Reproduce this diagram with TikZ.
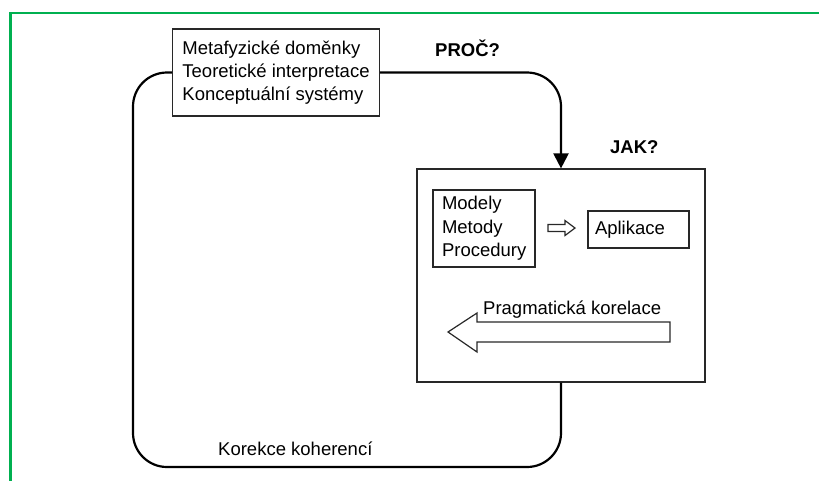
\documentclass[tikz,border=0pt]{standalone}
\usepackage{fontspec}
\setmainfont{Liberation Sans}
\usetikzlibrary{arrows.meta}

\definecolor{framegreen}{RGB}{0,176,80}
\definecolor{boxline}{RGB}{40,40,40}

\tikzset{
  txt/.style={font=\fontsize{18.5}{23.3}\selectfont},
  panel/.style={draw=boxline, line width=1.2pt, inner xsep=0pt, inner ysep=0pt},
  framed/.style={panel, txt, align=left, inner xsep=#1},
  flow/.style={line width=2.2pt, rounded corners=34pt},
  blockarrow/.style={draw=boxline, line width=1.2pt, fill=white, line join=miter},
  frame/.style={draw=framegreen, line width=2.6pt}
}

\begin{document}
\begin{tikzpicture}[x=1pt, y=-1pt]
  \useasboundingbox (0,0) rectangle (819,480);

  % outer frame (top and left edges)
  \draw[frame] (10.3,481) -- (10.3,13) -- (820,13);

  % theory box
  \node[framed=10pt, minimum width=206pt, minimum height=87pt]
    (meta) at (276,72.5)
    {Metafyzické doměnky\\Teoretické interpretace\\Konceptuální systémy};

  % practice box
  \node[panel, minimum width=288pt, minimum height=213pt] (jak) at (561,275.5) {};

  % inner boxes
  \node[framed=9pt, minimum width=102pt, minimum height=77pt, text width=84pt]
    (models) at (484,228.5) {Modely\\Metody\\Procedury};
  \node[framed=7pt, minimum width=101pt, minimum height=37pt, text width=87pt]
    (apl) at (638.5,229.5) {Aplikace};

  % question labels
  \node[txt, font=\fontsize{18.5}{23.3}\selectfont\bfseries, anchor=base west, inner sep=0pt]
    (proc) at (435,56) {PROČ?};
  \node[txt, font=\fontsize{18.5}{23.3}\selectfont\bfseries, anchor=base west, inner sep=0pt]
    (jakq) at (610,153) {JAK?};

  % small block arrow between the inner boxes
  \draw[blockarrow] (548,224.5) -- (565,224.5) -- (565,220.5) -- (575,228) -- (565,235.5)
    -- (565,231.5) -- (548,231.5) -- cycle;

  % large block arrow and its label
  \draw[blockarrow] (670,322) -- (477,322) -- (477,313) -- (448,332) -- (477,352)
    -- (477,342) -- (670,342) -- cycle;
  \node[txt, anchor=base west, inner sep=0pt] (prag) at (483,314) {Pragmatická korelace};

  % feedback loop
  \coordinate (loopcorner) at (133,467);
  \draw[flow] (jak.south) |- (loopcorner) |- (meta.west);
  \node[txt, anchor=base west, inner sep=0pt] (korekce) at (218,455) {Korekce koherencí};

  % forward connector
  \draw[flow, -{Triangle[length=15pt, width=15pt]}] (meta.east) -| (jak.north);
\end{tikzpicture}
\end{document}
